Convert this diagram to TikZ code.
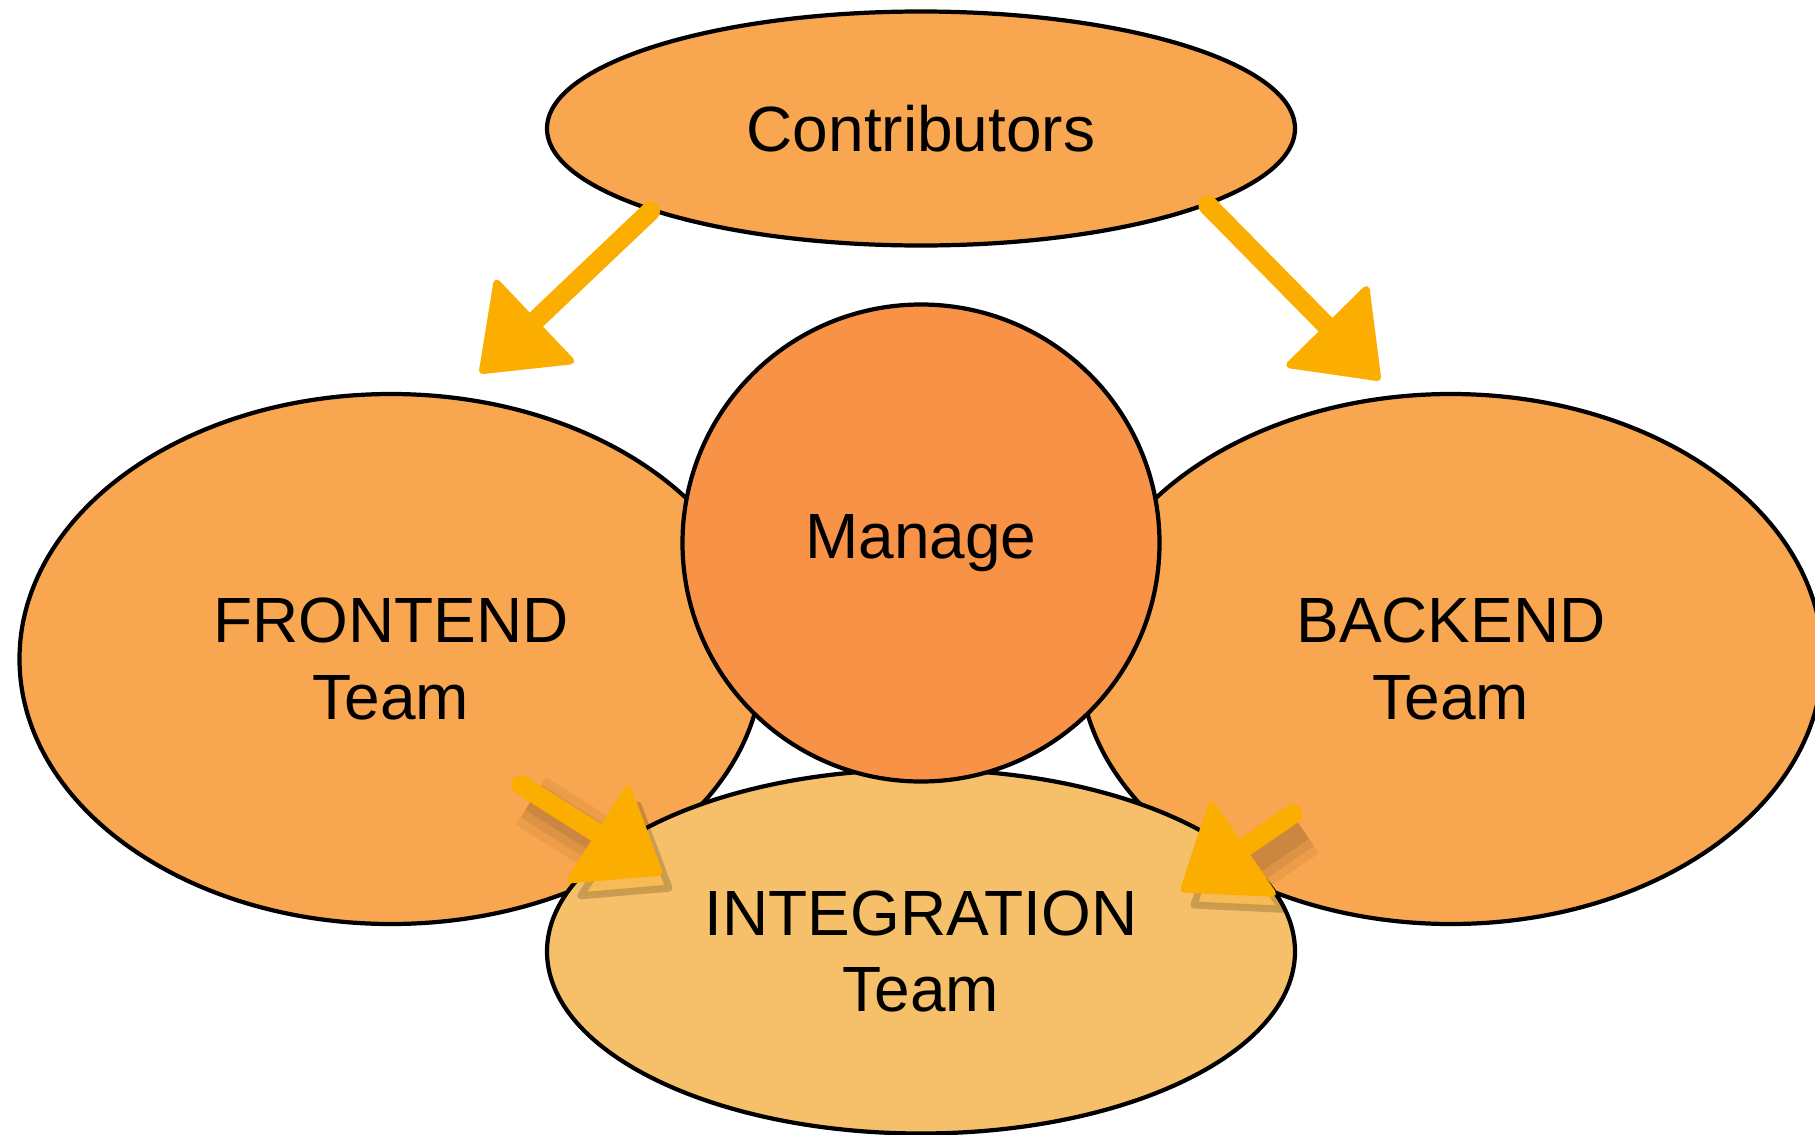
\documentclass[tikz,border=0pt]{standalone}
\usepackage{fontspec}
\setmainfont{Liberation Sans}
\usetikzlibrary{shapes, arrows.meta, positioning}
\definecolor{teamorange}{HTML}{F8A64F}
\definecolor{manageorange}{HTML}{F79246}
\definecolor{integrationorange}{HTML}{F6C06A}
\definecolor{arrowyellow}{HTML}{FBAD00}

\begin{document}
\begin{tikzpicture}[>={Stealth[length=8mm,width=12mm,inset=0pt,line width=2pt,fill=arrowyellow,round]},node distance=5.3cm,font=\fontsize{18.2}{21.8}\selectfont]
	\tikzset{team/.style={ellipse,draw=black,line width=1.2pt,fill=teamorange,inner sep=0pt,align=center,minimum width=7.43cm,minimum height=5.3cm}}
	\tikzset{push/.style={->,color=arrowyellow,line width=5.5pt,line cap=round,line join=round}}
	\tikzset{shadowed/.style={
		preaction={draw=black,opacity=0.05,line width=16pt,transform canvas={shift={(0.1,-0.16)}}},
		preaction={draw=black,opacity=0.06,line width=11pt,transform canvas={shift={(0.1,-0.16)}}},
		preaction={draw=black,opacity=0.08,line width=6pt,transform canvas={shift={(0.1,-0.16)}}}}}
	\useasboundingbox (0,0) rectangle (18.15,-11.34);
	\clip (0,0) rectangle (18.15,-11.34);
	\coordinate (mid) at (9.21,-5.43);
	\node[team] (frontend) [left of=mid, yshift=-1.16cm] {FRONTEND\\Team};
	\node[team] (backend) [right of=mid, yshift=-1.16cm] {BACKEND\\Team};
	\node[team, fill=integrationorange, minimum width=7.48cm, minimum height=3.64cm] (integration) [below of=mid, node distance=4.085cm] {INTEGRATION\\Team};
	\node[circle, draw=black, line width=1.2pt, fill=manageorange, minimum size=4.77cm] (manage) at (mid) {Manage};
	\node[team, minimum width=7.48cm, minimum height=2.34cm] (contributors) [above of=mid, node distance=4.145cm] {Contributors};
	\coordinate (frontend in) at (4.80,-3.73);
	\coordinate (backend in) at (13.80,-3.80);
	\coordinate (frontend out) at (5.21,-7.85);
	\coordinate (integration left) at (6.62,-8.74);
	\coordinate (backend out) at (12.93,-8.14);
	\coordinate (integration right) at (11.81,-8.91);
	\path
		(contributors.197)
			edge[push] (frontend in)
		(contributors.-15)
			edge[push] (backend in)
		(frontend out)
			edge[push, shadowed] (integration left)
		(backend out)
			edge[push, shadowed] (integration right);
\end{tikzpicture}
\end{document}
